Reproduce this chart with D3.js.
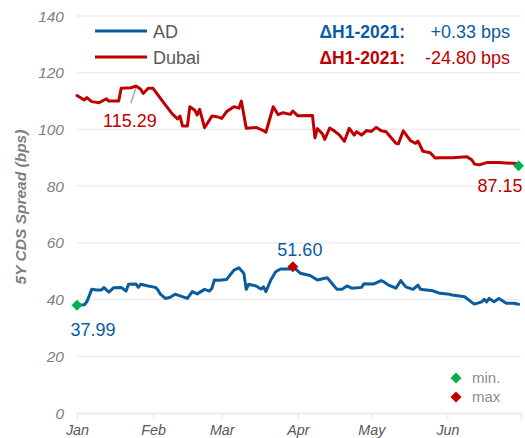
<!DOCTYPE html>
<html>
<head>
<meta charset="utf-8">
<script src="https://cdn.jsdelivr.net/npm/d3@7"></script>
<style>
  html, body { margin: 0; padding: 0; background: #ffffff; }
  svg { display: block; font-family: "Liberation Sans", Arial, sans-serif; }
</style>
</head>
<body>
<svg id="chart" width="525" height="438"></svg>
<script>
// ---------------- data ----------------
const seriesNames = ["AD", "Dubai"];
const monthTicks = ["2021-01-01","2021-02-01","2021-03-01","2021-04-01","2021-05-01","2021-06-01","2021-07-01"];
const yTicks = [0, 20, 40, 60, 80, 100, 120, 140];

const dubaiDates = ["2021-01-01","2021-01-04","2021-01-05","2021-01-07","2021-01-10","2021-01-13","2021-01-14","2021-01-18","2021-01-19","2021-01-23","2021-01-25","2021-01-26","2021-01-27","2021-01-28","2021-01-30","2021-02-01","2021-02-05","2021-02-09","2021-02-11","2021-02-12","2021-02-13","2021-02-15","2021-02-16","2021-02-18","2021-02-19","2021-02-20","2021-02-22","2021-02-25","2021-02-27","2021-03-01","2021-03-03","2021-03-06","2021-03-08","2021-03-09","2021-03-11","2021-03-15","2021-03-18","2021-03-19","2021-03-22","2021-03-24","2021-03-26","2021-03-29","2021-03-30","2021-04-01","2021-04-07","2021-04-08","2021-04-09","2021-04-11","2021-04-12","2021-04-14","2021-04-16","2021-04-18","2021-04-20","2021-04-22","2021-04-24","2021-04-25","2021-04-27","2021-04-29","2021-05-01","2021-05-03","2021-05-05","2021-05-07","2021-05-11","2021-05-12","2021-05-14","2021-05-17","2021-05-19","2021-05-20","2021-05-22","2021-05-25","2021-05-27","2021-05-29","2021-06-03","2021-06-09","2021-06-11","2021-06-12","2021-06-14","2021-06-17","2021-06-22","2021-06-29","2021-06-30"];
const dubaiValues = [111.95,110.4,111.2,109.8,109.4,110.8,110.0,110.0,114.5,114.7,115.29,114.8,114.1,112.7,114.5,114.5,109.8,105.3,103.7,104.7,101.2,101.2,108.0,106.8,105.1,107.1,100.6,104.7,104.5,103.9,106.3,108.0,107.5,110.0,100.4,100.7,99.6,99.0,108.0,105.2,105.9,105.3,106.5,104.8,104.9,97.0,100.3,98.5,96.5,100.5,99.4,98.0,95.8,100.4,98.0,99.2,98.0,99.6,99.3,100.7,99.5,99.2,95.1,94.9,99.5,96.0,95.1,95.9,92.3,91.8,89.9,90.0,90.0,90.4,89.2,87.8,87.5,88.3,88.3,88.0,87.15];

const adDates = ["2021-01-01","2021-01-04","2021-01-05","2021-01-07","2021-01-09","2021-01-11","2021-01-12","2021-01-14","2021-01-16","2021-01-19","2021-01-21","2021-01-22","2021-01-25","2021-01-26","2021-01-27","2021-01-30","2021-02-02","2021-02-03","2021-02-04","2021-02-06","2021-02-08","2021-02-10","2021-02-12","2021-02-15","2021-02-17","2021-02-19","2021-02-22","2021-02-24","2021-02-25","2021-02-26","2021-02-28","2021-03-03","2021-03-06","2021-03-08","2021-03-10","2021-03-11","2021-03-12","2021-03-15","2021-03-17","2021-03-18","2021-03-19","2021-03-21","2021-03-23","2021-03-25","2021-03-29","2021-03-30","2021-04-02","2021-04-06","2021-04-09","2021-04-13","2021-04-17","2021-04-19","2021-04-21","2021-04-23","2021-04-27","2021-04-28","2021-05-02","2021-05-05","2021-05-06","2021-05-08","2021-05-11","2021-05-13","2021-05-15","2021-05-18","2021-05-20","2021-05-21","2021-05-26","2021-05-29","2021-06-01","2021-06-03","2021-06-08","2021-06-11","2021-06-12","2021-06-15","2021-06-16","2021-06-17","2021-06-18","2021-06-20","2021-06-22","2021-06-25","2021-06-28","2021-06-30"];
const adValues = [37.99,38.2,39.2,43.6,43.4,43.4,44.2,42.6,44.2,44.3,43.0,45.4,45.5,44.3,45.4,44.8,44.3,43.4,41.9,40.4,40.8,41.9,41.3,40.4,42.8,42.0,43.6,43.0,44.0,46.9,46.8,47.1,50.4,51.2,49.3,43.6,45.4,44.8,43.7,44.5,42.8,46.9,49.8,50.8,50.8,51.6,49.3,48.5,46.9,47.7,43.6,43.6,44.8,44.0,44.3,45.6,45.5,46.7,46.3,45.1,44.0,46.7,44.5,43.6,45.1,43.6,43.1,42.2,42.0,41.6,41.0,39.0,38.4,39.2,40.1,39.2,40.4,39.2,40.4,38.7,38.7,38.32];

const deltaLabels = ["+0.33 bps", "-24.80 bps"];
const deltaPrefix = "\u0394H1-2021:";
const markerLegend = ["min.", "max"];

// ---------------- setup ----------------
const colors = { AD: "#0b5c9e", Dubai: "#c00000" };
const minColor = "#00b050", maxColor = "#c00000";
const parse = d3.timeParse("%Y-%m-%d");

const svg = d3.select("#chart");
const x = d3.scaleTime().domain([parse(monthTicks[0]), parse(monthTicks[monthTicks.length - 1])]).range([77, 521]);
const y = d3.scaleLinear().domain([0, 140]).range([413, 16]);

const ad = adDates.map((d, i) => ({ date: parse(d), value: adValues[i] }));
const dubai = dubaiDates.map((d, i) => ({ date: parse(d), value: dubaiValues[i] }));

// gridlines
svg.append("g").selectAll("line").data(yTicks.filter(v => v > 0)).join("line")
  .attr("x1", x.range()[0]).attr("x2", x.range()[1])
  .attr("y1", d => y(d)).attr("y2", d => y(d))
  .attr("stroke", "#ebebeb").attr("stroke-width", 1.3);

// y labels
svg.append("g").selectAll("text").data(yTicks).join("text")
  .attr("x", 64).attr("y", d => y(d) + 5.5)
  .attr("text-anchor", "end")
  .attr("font-size", 15.5).attr("font-style", "italic").attr("fill", "#7f7f7f")
  .text(d => d);

// x axis
const xAxis = d3.axisBottom(x)
  .tickValues(monthTicks.map(parse))
  .tickFormat((d, i) => i < monthTicks.length - 1 ? d3.timeFormat("%b")(d) : "")
  .tickSize(6).tickSizeOuter(0).tickPadding(6);
const gx = svg.append("g").attr("transform", `translate(0,${y(0)})`).call(xAxis);
gx.select(".domain").attr("stroke", "#e6e6e6").attr("stroke-width", 1.5);
gx.selectAll(".tick line").attr("stroke", "#e6e6e6").attr("stroke-width", 1.3);
gx.selectAll(".tick text").attr("font-family", "Liberation Sans, Arial, sans-serif")
  .attr("font-size", 14.3).attr("font-style", "italic").attr("fill", "#595959");

// y axis title
svg.append("text")
  .attr("transform", "translate(26,207) rotate(-90)")
  .attr("text-anchor", "middle")
  .attr("font-size", 15.5).attr("font-weight", "bold").attr("font-style", "italic")
  .attr("fill", "#808080")
  .text("5Y CDS Spread (bps)");

// lines
const line = d3.line().x(d => x(d.date)).y(d => y(d.value)).curve(d3.curveLinear);
[["Dubai", dubai], ["AD", ad]].forEach(([name, data]) => {
  svg.append("path").datum(data)
    .attr("fill", "none").attr("stroke", colors[name])
    .attr("stroke-width", 3).attr("stroke-linejoin", "round").attr("stroke-linecap", "round")
    .attr("d", line);
});

// markers
const diamond = d3.symbol().type(d3.symbolSquare).size(60);
function marker(d, color) {
  svg.append("path").attr("d", diamond())
    .attr("transform", `translate(${x(d.date)},${y(d.value)}) rotate(45)`)
    .attr("fill", color);
}
const adMin = ad[d3.minIndex(ad, d => d.value)];
const adMax = ad[d3.maxIndex(ad, d => d.value)];
const duMin = dubai[d3.minIndex(dubai, d => d.value)];
const duMax = dubai[d3.maxIndex(dubai, d => d.value)];
marker(adMin, minColor);
marker(adMax, maxColor);
marker(duMin, minColor);

// value labels
function label(d, dx, dy, anchor, color) {
  svg.append("text")
    .attr("x", x(d.date) + dx).attr("y", y(d.value) + dy)
    .attr("text-anchor", anchor).attr("font-size", 18).attr("fill", color)
    .text(d.value.toFixed(2));
}
label(adMin, 16, 31, "middle", colors.AD);
label(adMax, 7, -11, "middle", colors.AD);
label(duMin, 4, 26, "end", colors.Dubai);
// Dubai max with leader line
svg.append("line")
  .attr("x1", x(duMax.date)).attr("y1", y(duMax.value) + 2)
  .attr("x2", x(duMax.date) - 5).attr("y2", y(duMax.value) + 17)
  .attr("stroke", "#a6a6a6").attr("stroke-width", 1.5);
label(duMax, -6, 41, "middle", colors.Dubai);

// legend
seriesNames.forEach((name, i) => {
  const ly = 31 + i * 26;
  svg.append("line").attr("x1", 95).attr("x2", 147).attr("y1", ly).attr("y2", ly)
    .attr("stroke", colors[name]).attr("stroke-width", 3);
  svg.append("text").attr("x", 153).attr("y", ly + 6.5)
    .attr("font-size", 18).attr("fill", "#595959").text(name);
  svg.append("text").attr("x", 405).attr("y", ly + 6.5).attr("text-anchor", "end")
    .attr("font-size", 17.5).attr("font-weight", "bold").attr("fill", colors[name]).text(deltaPrefix);
  svg.append("text").attr("x", 510).attr("y", ly + 6.5).attr("text-anchor", "end")
    .attr("font-size", 18).attr("fill", colors[name]).text(deltaLabels[i]);
});

// min / max legend
markerLegend.forEach((t, i) => {
  const ly = 378 + i * 19;
  svg.append("path").attr("d", diamond())
    .attr("transform", `translate(456,${ly}) rotate(45)`)
    .attr("fill", i === 0 ? minColor : maxColor);
  svg.append("text").attr("x", 472).attr("y", ly + 5)
    .attr("font-size", 15).attr("fill", "#8c8c8c").text(t);
});
</script>
</body>
</html>
